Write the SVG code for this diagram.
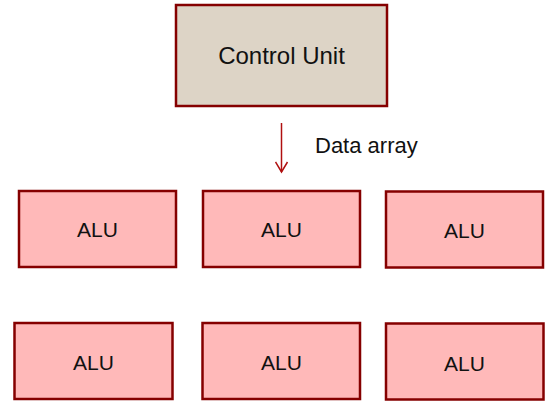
<svg xmlns="http://www.w3.org/2000/svg" width="546" height="401" viewBox="0 0 546 401">
  <style>
    .box { stroke: #850000; stroke-width: 2.5; }
    .cu { fill: #DDD4C6; }
    .alu { fill: #FFB9B9; }
    .lbl { font-family: "Liberation Sans", Arial, sans-serif; fill: #111; text-anchor: middle; }
    .conn { stroke: #B01010; stroke-width: 1.5; fill: none; }
  </style>
  <defs>
    <marker id="chev" markerWidth="14" markerHeight="14" refX="7" refY="11" orient="0" markerUnits="userSpaceOnUse">
      <path d="M1,1 L7,11 L13,1" fill="none" stroke="#B01010" stroke-width="1.5"/>
    </marker>
  </defs>

  <g id="control-unit">
    <rect class="box cu" x="176" y="5" width="211" height="101"/>
    <text class="lbl" x="281.5" y="64" font-size="24">Control Unit</text>
  </g>

  <g id="connectors">
    <line class="conn" x1="281.5" y1="123" x2="281.5" y2="172" marker-end="url(#chev)"/>
    <text x="315" y="152.5" font-family="Liberation Sans, Arial, sans-serif" font-size="22" fill="#111">Data array</text>
  </g>

  <g id="alu-1-1">
    <rect class="box alu" x="19" y="191" width="157" height="76"/>
    <text class="lbl" x="97.5" y="237" font-size="21">ALU</text>
  </g>
  <g id="alu-1-2">
    <rect class="box alu" x="203" y="191" width="157" height="76"/>
    <text class="lbl" x="281.5" y="237" font-size="21">ALU</text>
  </g>
  <g id="alu-1-3">
    <rect class="box alu" x="386" y="191.5" width="157" height="76"/>
    <text class="lbl" x="464.5" y="237.5" font-size="21">ALU</text>
  </g>

  <g id="alu-2-1">
    <rect class="box alu" x="14.5" y="323" width="158" height="76"/>
    <text class="lbl" x="93.5" y="370" font-size="21">ALU</text>
  </g>
  <g id="alu-2-2">
    <rect class="box alu" x="202.5" y="323" width="157.5" height="76"/>
    <text class="lbl" x="281.5" y="370" font-size="21">ALU</text>
  </g>
  <g id="alu-2-3">
    <rect class="box alu" x="386" y="323.5" width="157.5" height="76"/>
    <text class="lbl" x="464.5" y="370.5" font-size="21">ALU</text>
  </g>
</svg>
